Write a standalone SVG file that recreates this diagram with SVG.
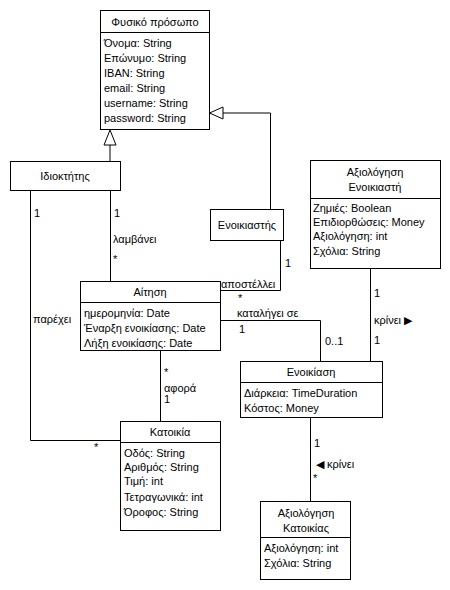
<svg xmlns="http://www.w3.org/2000/svg" width="450" height="590" viewBox="0 0 450 590">
<style>
text{font-family:"Liberation Sans",Arial,sans-serif;font-size:11px;fill:#000}
.c{text-anchor:middle}
.b{fill:#fff;stroke:#000;stroke-width:1}
.l{fill:none;stroke:#000;stroke-width:1}
</style>
<rect x="0" y="0" width="450" height="590" fill="#fff"/>
<g id="connectors">
<polyline class="l" points="110,145 110,161"/>
<polygon class="b" points="110,130 104,145 116,145"/>
<polyline class="l" points="223,113 270.5,113 270.5,209"/>
<polygon class="b" points="209.5,113 223,107 223,119"/>
<polyline class="l" points="30.5,190 30.5,440.5 120,440.5"/>
<polyline class="l" points="110.5,190 110.5,281"/>
<polyline class="l" points="280.5,240 280.5,290.5 220,290.5"/>
<polyline class="l" points="220,320.5 320.5,320.5 320.5,361"/>
<polyline class="l" points="160.5,350 160.5,421"/>
<polyline class="l" points="370.5,268 370.5,361"/>
<polyline class="l" points="310.5,417 310.5,501"/>
<text x="34" y="217">1</text>
<text x="114" y="217">1</text>
<text x="113" y="243">λαμβάνει</text>
<text x="113" y="263">*</text>
<text x="33" y="323">παρέχει</text>
<text x="94" y="451">*</text>
<text x="285" y="267">1</text>
<text x="221" y="288">αποστέλλει</text>
<text x="238" y="302">*</text>
<text x="237" y="317">καταλήγει σε</text>
<text x="239" y="333">1</text>
<text x="325" y="345">0..1</text>
<text x="164" y="376">*</text>
<text x="164" y="392">αφορά</text>
<text x="164" y="403">1</text>
<text x="374" y="297">1</text>
<text x="374" y="324">κρίνει ▶</text>
<text x="374" y="344">1</text>
<text x="314" y="447">1</text>
<text x="316" y="468">◀ κρίνει</text>
<text x="313" y="482">*</text>
</g>
<g id="fysiko">
<rect class="b" x="100.5" y="10.5" width="109" height="119"/>
<line class="l" x1="100.5" y1="32.5" x2="209.5" y2="32.5"/>
<text class="c" x="155" y="26">Φυσικό πρόσωπο</text>
<text x="104" y="47">Όνομα: String</text>
<text x="104" y="62">Επώνυμο: String</text>
<text x="104" y="77">IBAN: String</text>
<text x="104" y="92">email: String</text>
<text x="104" y="107">username: String</text>
<text x="104" y="122">password: String</text>
</g>
<g id="idioktitis">
<rect class="b" x="10.5" y="161.5" width="110" height="29"/>
<text class="c" x="65" y="180">Ιδιοκτήτης</text>
</g>
<g id="enoikiastis">
<rect class="b" x="210.5" y="209.5" width="73" height="31"/>
<text class="c" x="247" y="229">Ενοικιαστής</text>
</g>
<g id="axiologisi-enoikiasti">
<rect class="b" x="310.5" y="160.5" width="130" height="108"/>
<line class="l" x1="310.5" y1="198.5" x2="440.5" y2="198.5"/>
<text class="c" x="375" y="176">Αξιολόγηση</text>
<text class="c" x="375" y="191">Ενοικιαστή</text>
<text x="313" y="212">Ζημιές: Boolean</text>
<text x="313" y="226">Επιδιορθώσεις: Money</text>
<text x="313" y="240">Αξιολόγηση: int</text>
<text x="313" y="255">Σχόλια: String</text>
</g>
<g id="aitisi">
<rect class="b" x="80.5" y="281.5" width="140" height="69"/>
<line class="l" x1="80.5" y1="302.5" x2="220.5" y2="302.5"/>
<text class="c" x="150" y="296">Αίτηση</text>
<text x="84" y="317">ημερομηνία: Date</text>
<text x="84" y="332">Έναρξη ενοικίασης: Date</text>
<text x="84" y="347">Λήξη ενοικίασης: Date</text>
</g>
<g id="enoikiasi">
<rect class="b" x="240.5" y="361.5" width="142" height="56"/>
<line class="l" x1="240.5" y1="382.5" x2="382.5" y2="382.5"/>
<text class="c" x="311" y="376">Ενοικίαση</text>
<text x="244" y="397">Διάρκεια: TimeDuration</text>
<text x="244" y="412">Κόστος: Money</text>
</g>
<g id="katoikia">
<rect class="b" x="120.5" y="421.5" width="100" height="109"/>
<line class="l" x1="120.5" y1="442.5" x2="220.5" y2="442.5"/>
<text class="c" x="170" y="436">Κατοικία</text>
<text x="124" y="457">Οδός: String</text>
<text x="124" y="471">Αριθμός: String</text>
<text x="124" y="485">Τιμή: int</text>
<text x="124" y="501">Τετραγωνικά: int</text>
<text x="124" y="516">Όροφος: String</text>
</g>
<g id="axiologisi-katoikias">
<rect class="b" x="260.5" y="501.5" width="90" height="78"/>
<line class="l" x1="260.5" y1="537.5" x2="350.5" y2="537.5"/>
<text class="c" x="306" y="517">Αξιολόγηση</text>
<text class="c" x="306" y="532">Κατοικίας</text>
<text x="264" y="552">Αξιολόγηση: int</text>
<text x="264" y="567">Σχόλια: String</text>
</g>
</svg>
